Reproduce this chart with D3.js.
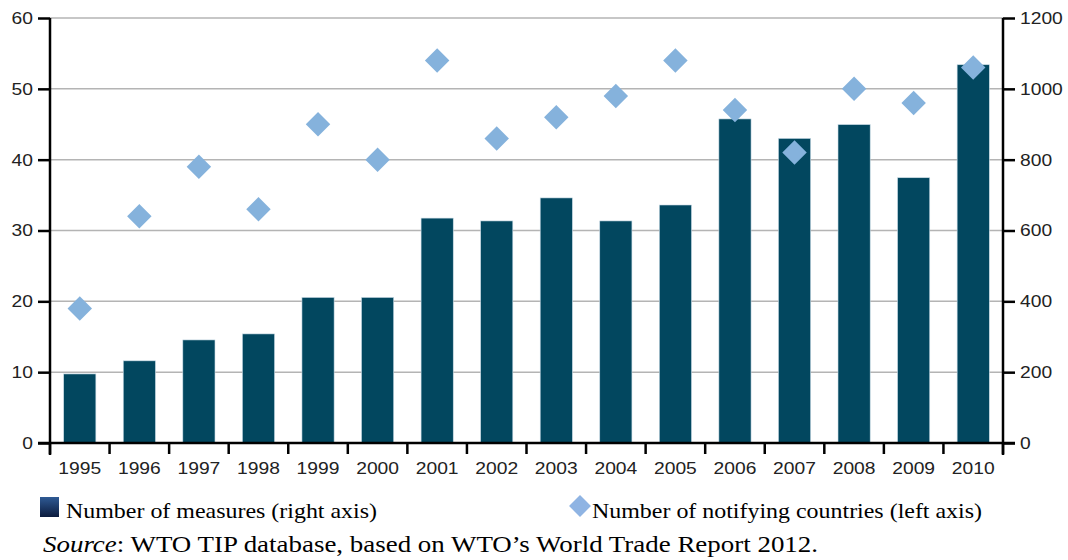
<!DOCTYPE html>
<html>
<head>
<meta charset="utf-8">
<script src="https://cdn.jsdelivr.net/npm/d3@7"></script>
<style>
  body { margin: 0; background: #fff; }
  svg { display: block; }
</style>
</head>
<body>
<div id="chart"></div>
<script>
// data
var years = ["1995","1996","1997","1998","1999","2000","2001","2002","2003","2004","2005","2006","2007","2008","2009","2010"];
var measures = [195, 232, 291, 308, 411, 411, 635, 627, 692, 627, 672, 915, 860, 899, 749, 1068];
var countries = [19, 32, 39, 33, 45, 40, 54, 43, 46, 49, 54, 47, 41, 50, 48, 53];
var leftTicks = [0, 10, 20, 30, 40, 50, 60];
var rightTicks = [0, 200, 400, 600, 800, 1000, 1200];

var W = 1068, H = 560;
var margin = {top: 18, right: 65, bottom: 117, left: 50};
var width = W - margin.left - margin.right,
    height = H - margin.top - margin.bottom;

var svg = d3.select("#chart").append("svg")
  .attr("width", W).attr("height", H);

var defs = svg.append("defs");
var grad = defs.append("linearGradient").attr("id", "navy")
  .attr("x1", 0).attr("y1", 0).attr("x2", 0).attr("y2", 1);
grad.append("stop").attr("offset", "0%").attr("stop-color", "#2f5a94");
grad.append("stop").attr("offset", "100%").attr("stop-color", "#0b1b3d");

var g = svg.append("g")
  .attr("transform", "translate(" + margin.left + "," + margin.top + ")");

var x = d3.scaleBand().domain(years).range([0, width]).paddingInner(0.46).paddingOuter(0.23);
var yL = d3.scaleLinear().domain([0, 60]).range([height, 0]);
var yR = d3.scaleLinear().domain([0, 1200]).range([height, 0]);

// gridlines
g.selectAll(".grid").data(leftTicks.slice(1))
  .enter().append("line")
  .attr("x1", 0).attr("x2", width)
  .attr("y1", function(d) { return yL(d); })
  .attr("y2", function(d) { return yL(d); })
  .style("stroke", "#b4b4b4").style("stroke-width", 1.5);

// bars
g.selectAll(".bar").data(measures)
  .enter().append("rect")
  .attr("x", function(d, i) { return x(years[i]); })
  .attr("y", function(d) { return yR(d); })
  .attr("width", x.bandwidth())
  .attr("height", function(d) { return height - yR(d); })
  .style("fill", "#02475f")
  .style("stroke", "#c9dbe6").style("stroke-width", 0.6);

// diamonds
var dsym = d3.symbol().type(d3.symbolSquare).size(300);
g.selectAll(".dia").data(countries)
  .enter().append("path")
  .attr("d", dsym)
  .attr("transform", function(d, i) {
    return "translate(" + (x(years[i]) + x.bandwidth() / 2) + "," + yL(d) + ") rotate(45)";
  })
  .style("fill", "#85b2dc");

// axes
var tickFont = "'Liberation Sans', Arial, sans-serif";
function styleLabel(sel) {
  sel.style("font-family", tickFont).style("font-size", "17px").style("fill", "#222")
    .attr("textLength", function() { return this.textContent.length * 10.7; })
    .attr("lengthAdjust", "spacingAndGlyphs");
}

var axL = g.append("g").call(d3.axisLeft(yL).tickValues(leftTicks).tickSize(12).tickPadding(5));
var axR = g.append("g").attr("transform", "translate(" + width + ",0)")
  .call(d3.axisRight(yR).tickValues(rightTicks).tickFormat(d3.format("d")).tickSize(12).tickPadding(5));

var boundaries = d3.range(years.length + 1).map(function(i) { return i * width / years.length; });
var axB = g.append("g").attr("transform", "translate(0," + height + ")");
axB.append("line").attr("x1", -12).attr("x2", width + 12).attr("y1", 0).attr("y2", 0)
  .style("stroke", "#000").style("stroke-width", 2.5);
axB.selectAll(".bt").data(boundaries).enter().append("line")
  .attr("x1", function(d) { return d; }).attr("x2", function(d) { return d; })
  .attr("y1", 0).attr("y2", 11)
  .style("stroke", "#000").style("stroke-width", 2.5);
axB.selectAll(".bl").data(years).enter().append("text")
  .attr("x", function(d) { return x(d) + x.bandwidth() / 2; })
  .attr("y", 31)
  .attr("text-anchor", "middle")
  .text(function(d) { return d; })
  .call(styleLabel);

[axL, axR].forEach(function(a) {
  a.select(".domain").style("stroke", "#000").style("stroke-width", 2.5);
  a.selectAll(".tick line").style("stroke", "#000").style("stroke-width", 2.5);
  a.selectAll(".tick text").call(styleLabel);
});
axL.select(".domain").attr("d", "M0," + (height + 12) + "V0");
axR.select(".domain").attr("d", "M0," + (height + 12) + "V0");

// legend
var serif = "'Liberation Serif', 'Times New Roman', serif";
svg.append("rect").attr("x", 40).attr("y", 497).attr("width", 19).attr("height", 20)
  .style("fill", "url(#navy)");
svg.append("text").attr("x", 66).attr("y", 518)
  .attr("textLength", 311).attr("lengthAdjust", "spacingAndGlyphs")
  .style("font-family", serif).style("font-size", "21px").style("fill", "#000")
  .text("Number of measures (right axis)");

svg.append("path").attr("d", d3.symbol().type(d3.symbolSquare).size(240))
  .attr("transform", "translate(580,506) rotate(45)")
  .style("fill", "#8fb4e3");
svg.append("text").attr("x", 592).attr("y", 518)
  .attr("textLength", 390).attr("lengthAdjust", "spacingAndGlyphs")
  .style("font-family", serif).style("font-size", "21px").style("fill", "#000")
  .text("Number of notifying countries (left axis)");

var src = svg.append("text").attr("x", 43).attr("y", 552)
  .attr("textLength", 775).attr("lengthAdjust", "spacingAndGlyphs")
  .style("font-family", serif).style("font-size", "23.5px").style("fill", "#000");
src.append("tspan").style("font-style", "italic").text("Source");
src.append("tspan").text(": WTO TIP database, based on WTO\u2019s World Trade Report 2012.");
</script>
</body>
</html>
